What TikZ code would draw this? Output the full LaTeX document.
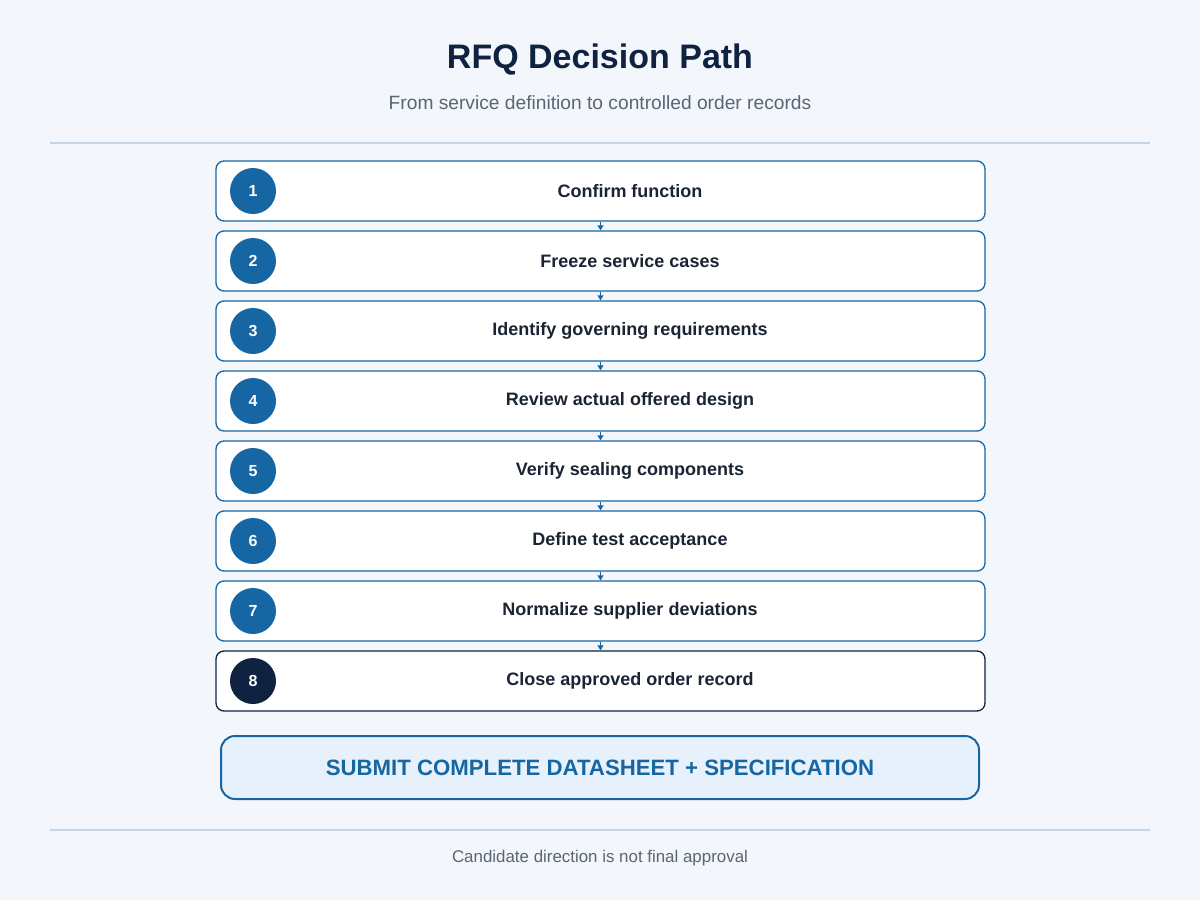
\documentclass[tikz,border=0pt]{standalone}
\usepackage{fontspec}
\setmainfont{Liberation Sans}
\usetikzlibrary{arrows.meta}
\definecolor{bg}{HTML}{F3F7FB}
\definecolor{blu}{HTML}{1766A4}
\definecolor{navy}{HTML}{0F2240}
\definecolor{txt}{HTML}{1A2433}
\definecolor{gry}{HTML}{5A6577}
\definecolor{rule}{HTML}{C5D5E6}
\definecolor{lfill}{HTML}{E6F1FB}
\tikzset{
  stepbox/.style={draw=blu,line width=1.3pt,fill=white,rounded corners=8pt,minimum width=769pt,minimum height=60pt,inner sep=0pt},
  laststep/.style={stepbox,draw=navy},
  num/.style={circle,fill=blu,minimum size=46pt,inner sep=0pt,text=white,font=\fontsize{16}{16}\selectfont\bfseries},
  lbl/.style={text=txt,font=\fontsize{18}{18}\selectfont\bfseries},
  conn/.style={draw=blu,line width=1pt,-{Triangle[length=5pt,width=6pt]}}
}
\begin{document}
\begin{tikzpicture}[x=1pt,y=-1pt]
\fill[bg] (0,0) rectangle (1200,900);
\useasboundingbox (0,0) rectangle (1200,900);
\node[text=navy,font=\fontsize{34}{34}\selectfont\bfseries] (title) at (600,60) {RFQ Decision Path};
\node[text=gry,font=\fontsize{19.2}{19.2}\selectfont] (sub) at (600,103) {From service definition to controlled order records};
\draw[rule,line width=1.2pt] (50,143) -- (1150,143);
\draw[rule,line width=1.2pt] (50,830) -- (1150,830);
\foreach \i/\t in {1/Confirm function,2/Freeze service cases,3/Identify governing requirements,4/Review actual offered design,5/Verify sealing components,6/Define test acceptance,7/Normalize supplier deviations,8/Close approved order record}{
  \pgfmathsetmacro{\yy}{191+70*(\i-1)}
  \ifnum\i=8
    \node[laststep] (b\i) at (600.5,\yy) {};
    \node[num,fill=navy] (n\i) at (253,\yy) {\i};
  \else
    \node[stepbox] (b\i) at (600.5,\yy) {};
    \node[num] (n\i) at (253,\yy) {\i};
  \fi
  \node[lbl] (t\i) at (630,\yy) {\t};
}
\foreach \a/\b in {1/2,2/3,3/4,4/5,5/6,6/7,7/8}{
  \draw[conn] (b\a.south) -- (b\b.north);
}
\node[draw=blu,line width=2pt,fill=lfill,rounded corners=14pt,minimum width=758pt,minimum height=63pt,text=blu,font=\fontsize{22.2}{22.2}\selectfont\bfseries] (submit) at (600,767.5) {SUBMIT COMPLETE DATASHEET + SPECIFICATION};
\node[text=gry,font=\fontsize{16.9}{16.9}\selectfont] (foot) at (600,858) {Candidate direction is not final approval};
\end{tikzpicture}
\end{document}
